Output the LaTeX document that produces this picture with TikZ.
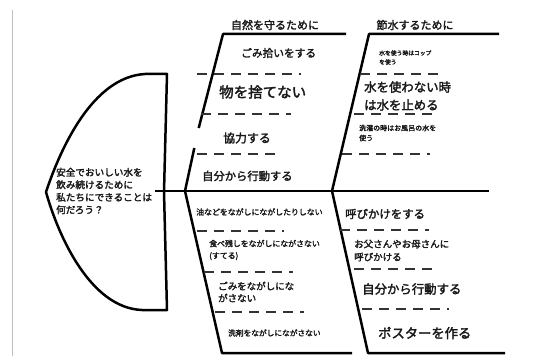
\documentclass[tikz,border=0pt]{standalone}
\usepackage{fontspec}
\newfontfamily\jp[FakeBold=2.2]{Noto Sans CJK JP}
\newcommand\jfs[2]{\fontsize{#1}{#2}\selectfont}
\begin{document}
\begin{tikzpicture}[x=1pt,y=-1pt,
  bone/.style={line width=2.5pt,draw=black},
  dashline/.style={line width=1.9pt,draw=black!80,dash pattern=on 10pt off 7pt},
  lbl/.style={inner sep=0pt,anchor=west,align=left,text=black!90,font=\jp},
  hdr/.style={inner sep=0pt,anchor=center,text=black!90,font=\jp\jfs{11}{13}}]
\useasboundingbox (0,0) rectangle (534,358);
\fill[white] (0,0) rectangle (534,358);
% faint frame line
\coordinate (fr0) at (12.7,10);
\coordinate (fr1) at (12.7,356);
\draw[black!25,line width=0.8pt] (fr0) -- (fr1);
% head
\coordinate (ht) at (167,74);
\coordinate (htl) at (145,74);
\coordinate (hp) at (46,192);
\coordinate (hbl) at (142,310);
\coordinate (hb) at (167,310);
\draw[bone,line join=round] (ht) -- (htl) .. controls (92,77) and (60,150) .. (hp)
  .. controls (58,235) and (90,308) .. (hbl) -- (hb) -- (164,192) -- cycle;
% spine
\coordinate (sp0) at (155,191);
\coordinate (sp1) at (489,191);
\draw[bone] (sp0) -- (sp1);
% bones
\coordinate (tlb) at (185,191);
\coordinate (tlg1) at (194.3,148);
\coordinate (tlg2) at (198.7,128);
\coordinate (tlt) at (223,34);
\coordinate (tle) at (346,34);
\coordinate (trb) at (332,191);
\coordinate (trt) at (369,34);
\coordinate (tre) at (499,34);
\coordinate (blt) at (222,353);
\coordinate (ble) at (352,353);
\coordinate (brt) at (368,353);
\coordinate (bre) at (505,353);
\draw[bone] (tlb) -- (tlg1);
\draw[bone,line join=round] (tlg2) -- (tlt) -- (tle);
\draw[bone,line join=round] (trb) -- (trt) -- (tre);
\draw[bone,line join=round] (tlb) -- (blt) -- (ble);
\draw[bone,line join=round] (trb) -- (brt) -- (bre);
% dashed separators
\foreach \a/\b/\y in {197/301/74, 201/291/114, 197/281/154,
                      360/440/74, 354/439/114, 342/430/154,
                      197/284/231, 204/293/272, 215/304/312,
                      340/429/230, 354/439/269, 362/449/309}{
  \draw[dashline] (\a,\y) -- (\b,\y);
}
% headers
\node[hdr] (h1) at (275,25) {自然を守るために};
\node[hdr] (h2) at (415,25) {節水するために};
% main question
\node[lbl,font=\jp\jfs{9.6}{12.5}] (q) at (56,191) {安全でおいしい水を\\飲み続けるために\\私たちにできることは\\何だろう？};
% top-left items
\node[lbl,font=\jp\jfs{10.7}{13}] (a1) at (241,53) {ごみ拾いをする};
\node[lbl,font=\jp\jfs{14.5}{17}] (a2) at (219,92) {物を捨てない};
\node[lbl,font=\jp\jfs{11.9}{14}] (a3) at (223,138) {協力する};
\node[lbl,font=\jp\jfs{11.3}{14}] (a4) at (202,176) {自分から行動する};
% top-right items
\node[lbl,font=\jp\jfs{5.8}{9}] (b1) at (379,57.5) {水を使う時はコップ\\を使う};
\node[lbl,font=\jp\jfs{12.4}{18}] (b2) at (364,96) {水を使わない時\\は水を止める};
\node[lbl,font=\jp\jfs{7}{10}] (b3) at (359,133) {洗濯の時はお風呂の水を\\使う};
% bottom-left items
\node[lbl,font=\jp\jfs{7.9}{10}] (c1) at (196,212) {油などをながしにながしたりしない};
\node[lbl,font=\jp\jfs{7.9}{12}] (c2) at (209,250) {食べ残しをながしにながさない\\(すてる)};
\node[lbl,font=\jp\jfs{9.5}{12}] (c3) at (218,292) {ごみをながしにな\\がさない};
\node[lbl,font=\jp\jfs{7.7}{10}] (c4) at (228,333) {洗剤をながしにながさない};
% bottom-right items
\node[lbl,font=\jp\jfs{11.4}{14}] (d1) at (345,214) {呼びかけをする};
\node[lbl,font=\jp\jfs{9.5}{13}] (d2) at (354,250.5) {お父さんやお母さんに\\呼びかける};
\node[lbl,font=\jp\jfs{12.4}{15}] (d3) at (362,289) {自分から行動する};
\node[lbl,font=\jp\jfs{13.3}{16}] (d4) at (378,333) {ポスターを作る};
\end{tikzpicture}
\end{document}
